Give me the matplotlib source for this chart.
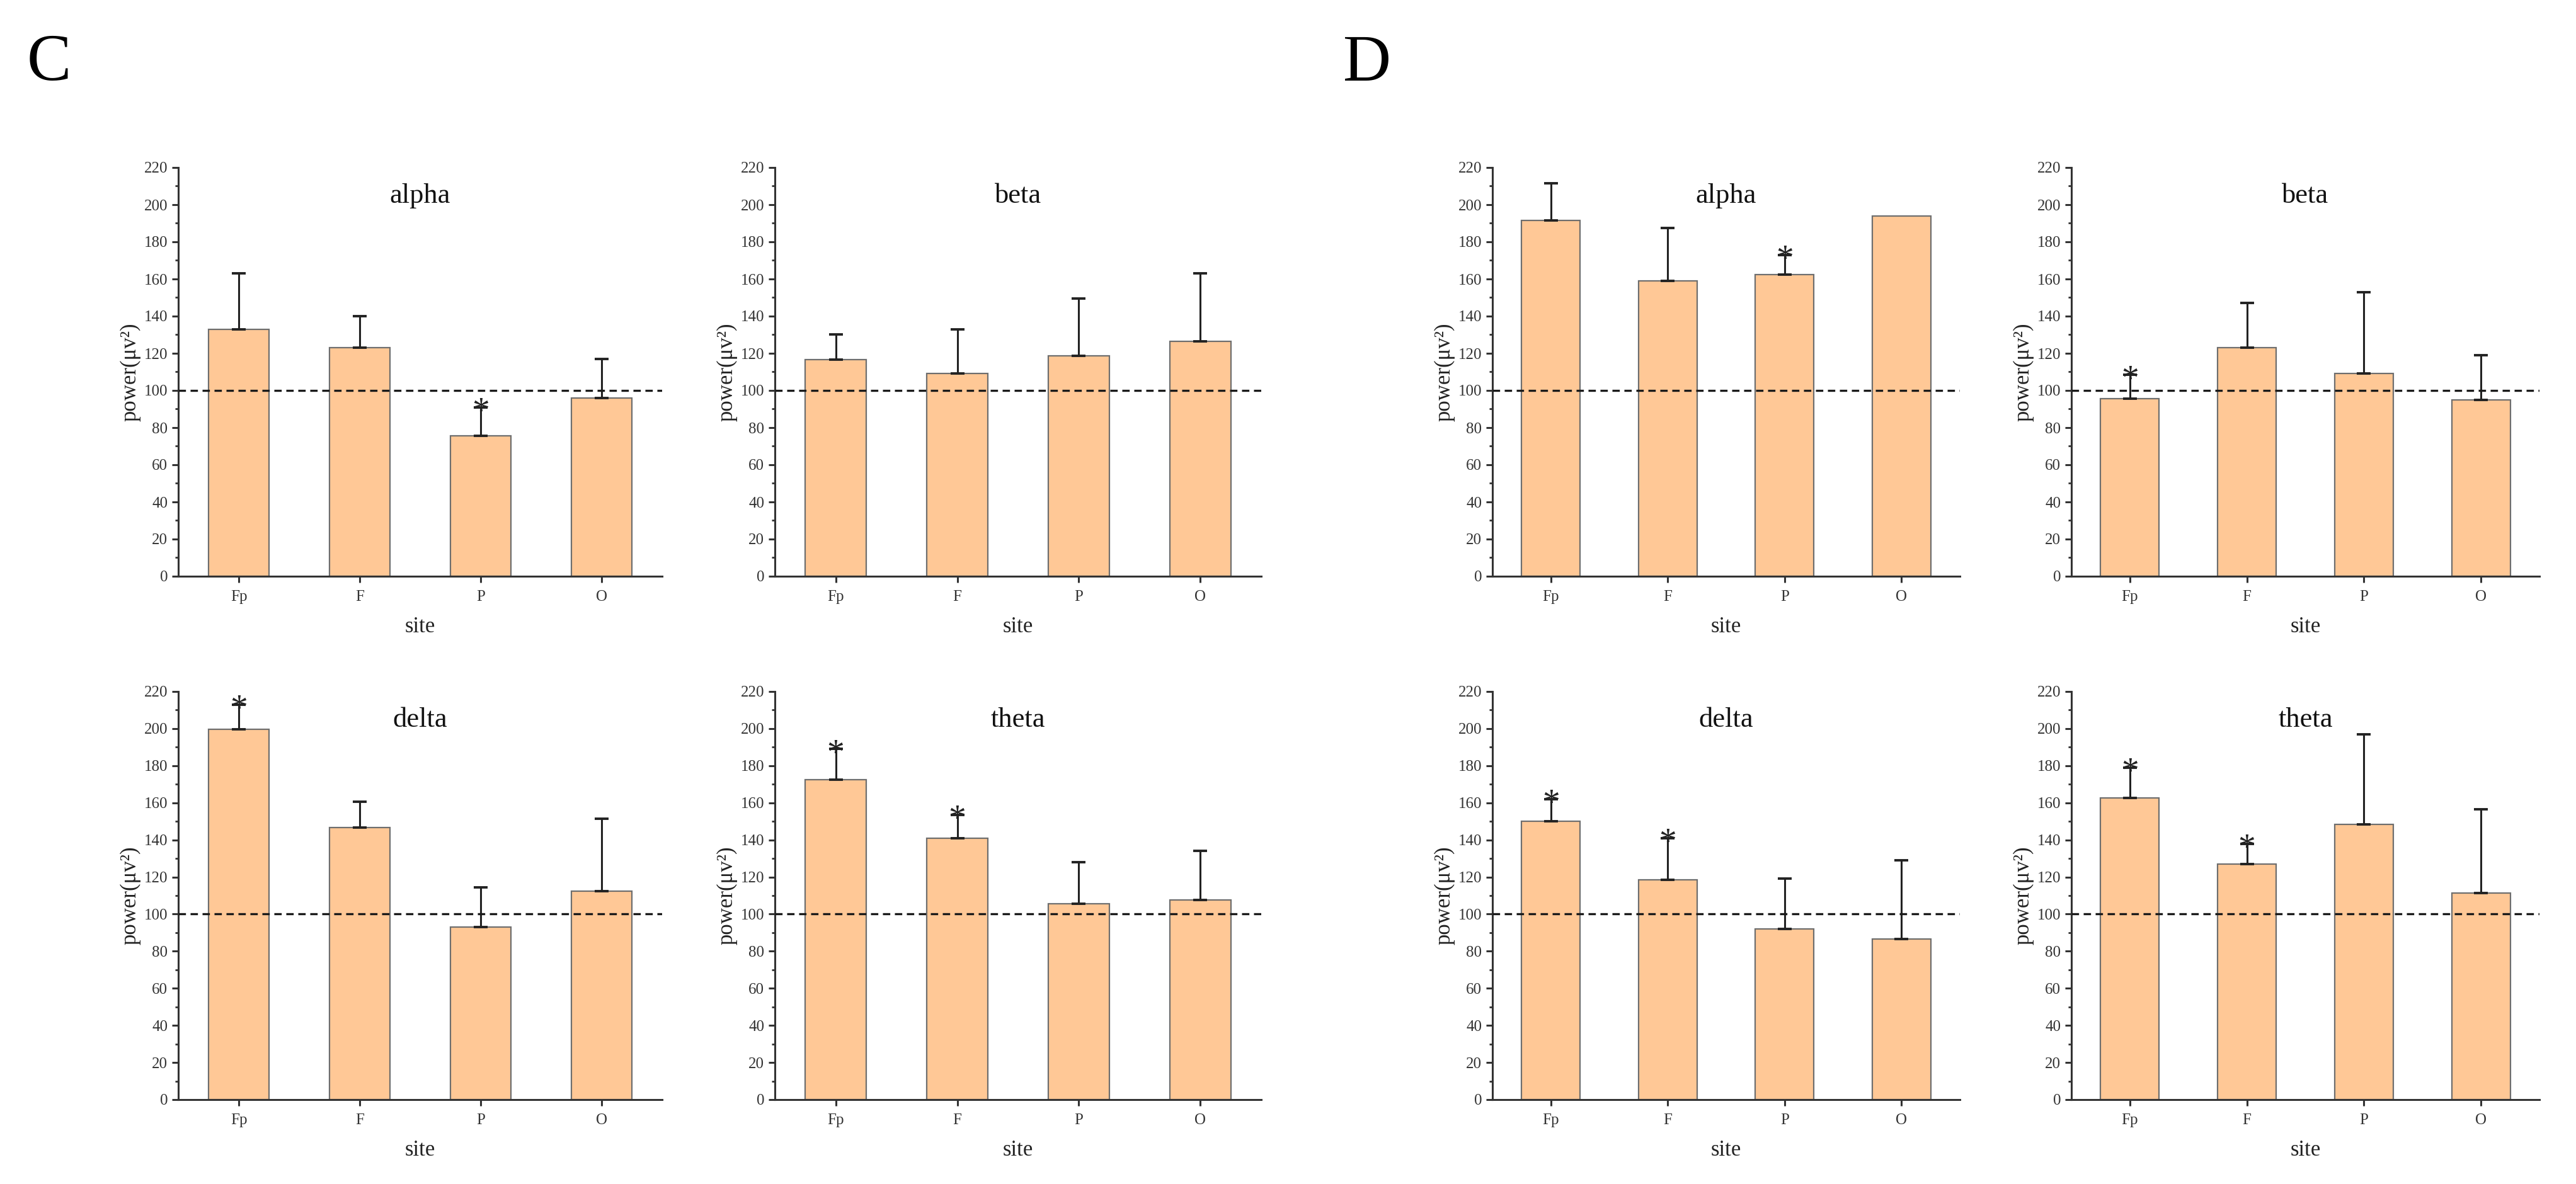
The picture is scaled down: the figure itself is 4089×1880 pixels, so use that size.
import numpy as np
import matplotlib
matplotlib.use("Agg")
import matplotlib.pyplot as plt
from matplotlib.ticker import MultipleLocator

# data
sites = ["Fp", "F", "P", "O"]

c_alpha = [133, 123, 75.5, 96]
c_alpha_top = [163, 140, 91, 117]
c_beta = [116.5, 109, 118.5, 126.5]
c_beta_top = [130, 133, 149.5, 163]
c_delta = [199.5, 146.5, 93, 112.5]
c_delta_top = [213, 160.5, 114.5, 151.5]
c_theta = [172.5, 141, 105.5, 107.5]
c_theta_top = [189, 153.5, 128, 134]

d_alpha = [191.5, 159, 162.5, 194]
d_alpha_top = [211.5, 187.5, 173, None]
d_beta = [95.5, 123, 109, 95]
d_beta_top = [108.5, 147, 153, 119]
d_delta = [150, 118.5, 92, 86.5]
d_delta_top = [162, 141, 119, 129]
d_theta = [162.5, 127, 148.5, 111.5]
d_theta_top = [179, 138, 197, 156.5]

# which bars carry a significance star
c_alpha_sig = ["P"]
c_beta_sig = []
c_delta_sig = ["Fp"]
c_theta_sig = ["Fp", "F"]
d_alpha_sig = ["P"]
d_beta_sig = ["Fp"]
d_delta_sig = ["Fp", "F"]
d_theta_sig = ["Fp", "F"]

baseline = 100

plt.rcParams['font.family'] = ['Liberation Serif', 'DejaVu Serif']

W, H = 4089, 1880
fig = plt.figure(figsize=(W / 100, H / 100), dpi=100)

bar_col = '#FFC896'
edge_col = '#6e6e6e'
axis_col = '#333333'


def px(x0, y0, x1, y1):
    # pixel box (left, top, right, bottom) -> figure fraction rect
    return [x0 / W, 1 - y1 / H, (x1 - x0) / W, (y1 - y0) / H]


panels = [
    ("alpha", c_alpha, c_alpha_top, c_alpha_sig, px(283, 266, 1051, 915)),
    ("beta", c_beta, c_beta_top, c_beta_sig, px(1230, 266, 2002, 915)),
    ("delta", c_delta, c_delta_top, c_delta_sig, px(283, 1098, 1051, 1746)),
    ("theta", c_theta, c_theta_top, c_theta_sig, px(1230, 1098, 2002, 1746)),
    ("alpha", d_alpha, d_alpha_top, d_alpha_sig, px(2369, 266, 3111, 915)),
    ("beta", d_beta, d_beta_top, d_beta_sig, px(3288, 266, 4031, 915)),
    ("delta", d_delta, d_delta_top, d_delta_sig, px(2369, 1098, 3111, 1746)),
    ("theta", d_theta, d_theta_top, d_theta_sig, px(3288, 1098, 4031, 1746)),
]

x = np.arange(1, len(sites) + 1)

for title, vals, tops, sig, rect in panels:
    ax = fig.add_axes(rect)
    ax.bar(x, vals, width=0.5, color=bar_col, edgecolor=edge_col, linewidth=1.6, zorder=2)
    for xi, v, t in zip(x, vals, tops):
        if t is None:
            continue
        ax.errorbar([xi], [v], yerr=[[0], [t - v]], fmt='none', ecolor='#222222',
                    elinewidth=2.2, capsize=8, capthick=2.8, zorder=3)
    ax.axhline(baseline, color='#1a1a1a', linestyle=(0, (3.5, 2.2)), linewidth=2.4, zorder=4)
    for s in sig:
        i = sites.index(s)
        ax.annotate('*', (x[i], tops[i]), xytext=(0, -17), textcoords='offset points',
                    ha='center', va='baseline', fontsize=40, color='#222222', zorder=5)

    ax.set_xlim(0.5, 4.5)
    ax.set_ylim(0, 220)
    ax.set_xticks(x)
    ax.set_xticklabels(sites)
    ax.yaxis.set_major_locator(MultipleLocator(20))
    ax.yaxis.set_minor_locator(MultipleLocator(10))

    for side in ['top', 'right']:
        ax.spines[side].set_visible(False)
    for side in ['left', 'bottom']:
        ax.spines[side].set_linewidth(2.2)
        ax.spines[side].set_color(axis_col)

    ax.tick_params(axis='both', which='major', direction='out', length=7, width=2.2,
                   color=axis_col, labelsize=18, labelcolor='#333333')
    ax.tick_params(axis='y', which='major', pad=5)
    ax.tick_params(axis='x', which='major', pad=9)
    ax.tick_params(axis='y', which='minor', direction='out', length=3.6, width=2.0, color=axis_col)

    ax.set_ylabel('power(μv²)', fontsize=25, labelpad=4, color='#222222')
    ax.set_xlabel('site', fontsize=25, labelpad=14, color='#222222')
    ax.text(0.5, 0.93, title, transform=ax.transAxes, ha='center', va='center',
            fontsize=32, color='#111111')

fig.text(43 / W, 1 - 127 / H, 'C', fontsize=76, ha='left', va='baseline')
fig.text(2132 / W, 1 - 128 / H, 'D', fontsize=76, ha='left', va='baseline')

fig.savefig('out.png', dpi=100, facecolor='white')
